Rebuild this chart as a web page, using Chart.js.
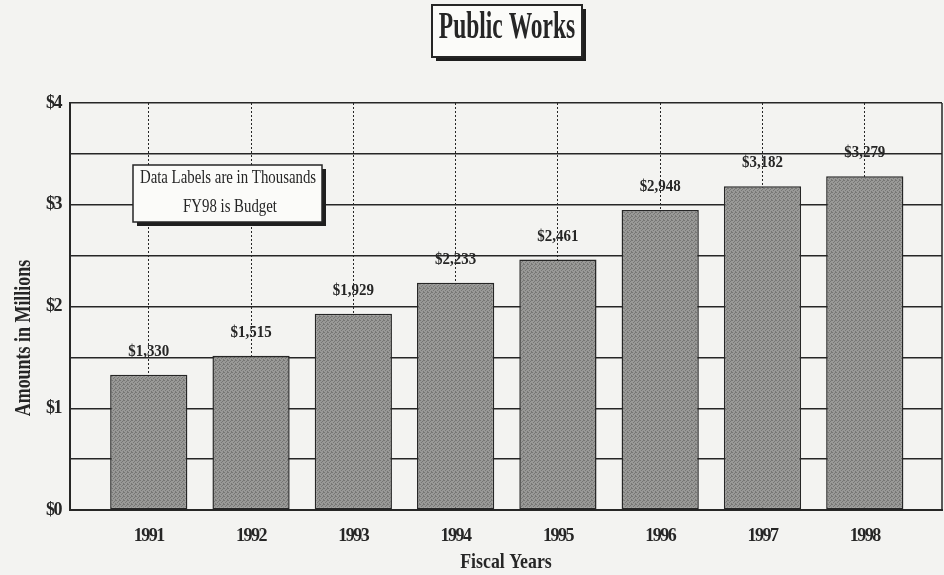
<!DOCTYPE html>
<html>
<head>
<meta charset="utf-8">
<script src="https://cdn.jsdelivr.net/npm/chart.js@4/dist/chart.umd.min.js"></script>
<style>
  html, body { margin: 0; padding: 0; background: #f3f3f1; }
  #wrap { width: 944px; height: 575px; }
</style>
</head>
<body>
<div id="wrap"><canvas id="c" width="944" height="575"></canvas></div>
<script>
// Fiscal years and Public Works spending (thousands of dollars)
const years = ['1991', '1992', '1993', '1994', '1995', '1996', '1997', '1998'];
const spendingThousands = [1330, 1515, 1929, 2233, 2461, 2948, 3182, 3279];
const yTickValues = [0, 1, 2, 3, 4];

const titleText = 'Public Works';
const noteLines = ['Data Labels are in Thousands', 'FY98 is Budget'];
const xTitle = 'Fiscal Years';
const yTitle = 'Amounts in Millions';

const SERIF = '"Liberation Serif", "Times New Roman", serif';
const INK = '#262626';

// bars are plotted in millions on a linear index axis
const points = spendingThousands.map((v, i) => ({ x: i, y: v / 1000 }));

// fine halftone fill for the bars
function halftone() {
  const tile = document.createElement('canvas');
  tile.width = 4; tile.height = 4;
  const t = tile.getContext('2d');
  t.fillStyle = '#999997';
  t.fillRect(0, 0, 4, 4);
  t.fillStyle = '#777775';
  [[0, 0], [2, 1], [1, 2], [3, 3], [3, 0]].forEach(([a, b]) => t.fillRect(a, b, 1, 1));
  return document.getElementById('c').getContext('2d').createPattern(tile, 'repeat');
}

// draw text squeezed horizontally, like a condensed face
function condensed(ctx, text, x, y, sx, font, align) {
  ctx.save();
  ctx.letterSpacing = '0px';
  ctx.font = font;
  ctx.fillStyle = INK;
  ctx.textAlign = align || 'center';
  ctx.textBaseline = 'alphabetic';
  ctx.translate(x, y);
  ctx.scale(sx, 1);
  ctx.fillText(text, 0, 0);
  ctx.restore();
}

function shadowBox(ctx, x, y, w, h, off, lw) {
  ctx.save();
  ctx.fillStyle = '#1e1e1e';
  ctx.fillRect(x + off, y + off, w, h);
  ctx.fillStyle = '#fbfbf9';
  ctx.fillRect(x, y, w, h);
  ctx.strokeStyle = INK;
  ctx.lineWidth = lw;
  ctx.strokeRect(x, y, w, h);
  ctx.restore();
}

const decor = {
  id: 'decor',
  beforeDraw(chart) {
    const ctx = chart.ctx;
    ctx.save();
    ctx.fillStyle = '#f3f3f1';
    ctx.fillRect(0, 0, chart.width, chart.height);
    ctx.restore();
    // tight spacing for the axis tick labels
    ctx.letterSpacing = '-1.5px';
  },
  afterDatasetsDraw(chart) {
    const ctx = chart.ctx;
    const meta = chart.getDatasetMeta(0);
    meta.data.forEach((bar, i) => {
      const label = '$' + spendingThousands[i].toLocaleString('en-US');
      condensed(ctx, label, bar.x, bar.y - 19, 0.88, 'bold 17px ' + SERIF, 'center');
    });
  },
  afterDraw(chart) {
    const ctx = chart.ctx;
    const a = chart.chartArea;
    ctx.letterSpacing = '0px';

    // right edge of the plot frame
    ctx.save();
    ctx.strokeStyle = INK;
    ctx.lineWidth = 1.5;
    ctx.beginPath();
    ctx.moveTo(a.right, a.top);
    ctx.lineTo(a.right, a.bottom);
    ctx.stroke();
    ctx.restore();

    // boxed title
    shadowBox(ctx, 432, 5, 150, 52, 4, 2);
    condensed(ctx, titleText, 507, 38, 0.635, 'bold 37px ' + SERIF, 'center');

    // note box
    const nx = a.left + 63, ny = a.top + 62;
    shadowBox(ctx, nx, ny, 189, 57, 4, 1.5);
    condensed(ctx, noteLines[0], nx + 95, ny + 18, 0.78, '19px ' + SERIF, 'center');
    condensed(ctx, noteLines[1], nx + 97, ny + 47, 0.78, '19px ' + SERIF, 'center');

    // axis titles
    condensed(ctx, xTitle, (a.left + a.right) / 2, 568, 0.81, 'bold 22px ' + SERIF, 'center');
    ctx.save();
    ctx.translate(30, 338);
    ctx.rotate(-Math.PI / 2);
    condensed(ctx, yTitle, 0, 0, 0.78, 'bold 23px ' + SERIF, 'center');
    ctx.restore();
  }
};

new Chart(document.getElementById('c'), {
  type: 'bar',
  plugins: [decor],
  data: {
    datasets: [{
      data: points,
      backgroundColor: halftone(),
      borderColor: INK,
      borderWidth: 1.5,
      borderSkipped: false,
      barPercentage: 0.755,
      categoryPercentage: 1
    }]
  },
  options: {
    responsive: false,
    animation: false,
    events: [],
    layout: { padding: { top: 103, right: 2, left: 0, bottom: 0 } },
    plugins: { legend: { display: false }, title: { display: false }, tooltip: { enabled: false } },
    scales: {
      x: {
        type: 'linear',
        min: -0.77,
        max: 7.755,
        offset: false,
        afterFit(s) { s.height = 65; },
        ticks: {
          stepSize: 1,
          includeBounds: false,
          autoSkip: false,
          maxRotation: 0,
          padding: 16,
          color: INK,
          font: { family: SERIF, size: 18, weight: 'bold' },
          callback: v => (Number.isInteger(v) && years[v]) ? years[v] : ''
        },
        grid: { offset: false, color: INK, lineWidth: 1, drawTicks: false },
        border: { display: true, color: INK, width: 2, dash: [2, 2] }
      },
      y: {
        min: 0,
        max: 4,
        afterFit(s) { s.width = 70; },
        ticks: {
          stepSize: 0.5,
          padding: 9,
          color: INK,
          font: { family: SERIF, size: 18, weight: 'bold' },
          callback: v => yTickValues.includes(v) ? '$' + v : ''
        },
        grid: { color: INK, lineWidth: 1.5, drawTicks: false },
        border: { display: true, color: INK, width: 2 }
      }
    }
  }
});
</script>
</body>
</html>
